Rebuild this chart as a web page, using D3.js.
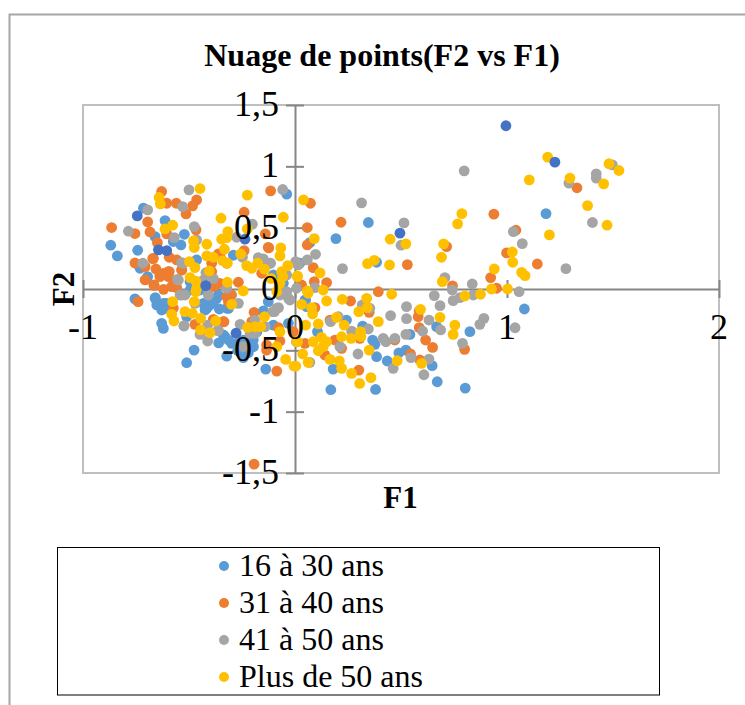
<!DOCTYPE html>
<html>
<head>
<meta charset="utf-8">
<script src="https://cdn.jsdelivr.net/npm/d3@7/dist/d3.min.js"></script>
<style>html,body{margin:0;padding:0;background:#fff}svg{display:block}text{font-family:"Liberation Serif",serif;fill:#000}</style>
</head>
<body>
<div id="chart"></div>
<script>
const xTicks = [-1, 0, 1, 2];
const yTicks = [-1.5, -1, -0.5, 0, 0.5, 1, 1.5];
const legendLabels = ["16 à 30 ans", "31 à 40 ans", "41 à 50 ans", "Plus de 50 ans"];
const chartTitle = "Nuage de points(F2 vs F1)";

const age16to30 = [[-.869,.357],[-.838,.27],[-.742,.316],[-.613,.558],[-.715,.659],[-.522,.446],[-.66,.427],[-.574,.387],[-.538,.359],[-.039,.773],[-.291,.275],[-.731,.169],[-.695,.101],[-.637,.114],[-.102,.114],[-.464,.237],[-.495,.06],[-.055,.046],
[-.755,-.081],[-.659,-.07],[-.652,-.13],[-.621,-.117],[-.629,-.171],[-.613,-.157],[-.629,-.28],[-.621,-.321],[-.476,-.498],[-.511,-.601],[-.424,-.171],[-.401,-.13],[-.369,-.076],[-.432,-.117],[-.357,-.163],[-.322,-.157],[-.126,-.103],[-.149,-.179],[-.385,-.09],[-.338,-.375],[-.314,-.416],[-.275,-.443],[-.212,-.43],[-.322,-.547],[-.244,-.56],[-.196,-.47],[-.138,-.653],[-.511,-.226],[-.031,-.28],[-.102,-.294],
[.346,.542],[.193,.411],[.07,.378],[.385,.218],[.023,.21],[.05,-.09],[.243,-.253],[.319,-.302],[.106,-.348],[.366,-.416],[.377,-.451],[.542,-.37],[.668,-.307],[.825,-.348],[.385,-.552],[.435,-.587],[.49,-.52],[.523,-.498],[.647,-.625],[.671,-.756],[.803,-.808],[.38,-.819],[.169,-.821],[.18,-.653],[.007,-.43],[1.184,.615],[1.082,-.163],
[-.66,-.076],[-.605,-.117],[-.417,-.158],[-.385,-.103],[-.362,-.049],[-.314,-.158],[-.149,-.185],[-.33,-.389],[-.299,-.443],[-.244,-.416],[-.197,-.416],[-.495,-.008],[-.448,-.008],[.047,-.09],[.055,-.144],[-.102,.106],[-.27,-.5],[-.22,-.52],[-.36,-.44],[-.18,-.35]];

const age31to40 = [[-.629,.795],[-.605,.699],[-.56,.699],[-.464,.727],[-.483,.678],[-.514,.612],[-.865,.501],[-.755,.452],[-.695,.547],[-.684,.465],[-.649,.378],[-.605,.449],[-.467,.482],[-.24,.626],[-.14,.449],[-.115,.8],[-.124,.335],[-.24,.313],[-.671,.248],[-.755,.212],[-.593,.259],[-.558,.237],[-.707,.182],[-.656,.163],[-.534,.155],[-.593,.142],[-.637,.101],[-.597,.101],[-.707,.074],[-.665,.03],[-.62,-.003],[-.582,.019],[-.393,.21],[-.361,.286],[-.322,.21],[-.393,.142],[-.369,.046],[-.267,.055],[-.157,.128],
[-.74,-.103],[-.574,-.157],[-.472,-.288],[-.385,-.253],[-.338,-.266],[-.314,-.103],[-.299,-.049],[-.193,-.19],[-.204,-.266],[-.078,-.315],[-.071,-.424],[-.134,-.457],[-.134,-.498],[-.086,-.669],[-.193,-1.428],[-.008,-.348],[-.558,.011],
[.073,.699],[.217,.544],[.058,.501],[.058,.359],[.086,.174],[.091,.06],[.149,.052],[.031,.033],[.715,.346],[.53,.199],[.938,.61],[.998,.294],[.923,.093],[.743,.025],[.951,.006],[.393,-.022],
[.262,-.098],[.35,-.19],[.094,-.152],[.581,-.226],[.586,-.179],[.586,-.315],[.616,-.416],[.649,-.476],[.8,-.492],[.165,-.253],[.306,-.402],[.047,-.443],[.188,-.416],[.22,-.484],[.141,-.538],[.545,-.53],[.589,-.579],[.301,-.661],[.471,-.416],
[1.33,.825],[1.042,.479],[1.143,.204],
[-.668,.25],[-.621,.128],[-.598,.141],[-.665,.033],[-.574,.033],[-.535,.155],[-.354,.046],[-.385,.019],[-.307,-.117],[-.322,-.063],[-.385,-.248],[-.335,-.267],[-.126,.34],[-.354,.278]];

const age41to50 = [[-.5,.808],[-.695,.645],[-.53,.672],[-.786,.471],[-.475,.509],[-.569,.419],[-.464,.4],[-.275,.422],[-.201,.528],[-.058,.811],[-.718,.21],[-.527,.21],[-.555,.079],[-.42,.134],[-.385,.085],[-.248,.259],[-.173,.256],[-.149,.245],[-.115,.21],[.008,.21],[-.039,.114],[-.322,.006],
[-.523,-.299],[-.534,-.049],[-.409,-.049],[-.472,-.117],[-.267,-.117],[-.078,-.152],[-.097,-.185],[-.031,-.076],[-.071,-.049],[-.259,-.288],[-.189,-.253],[-.141,-.307],[-.189,-.362],[-.412,-.424],[-.448,-.37],[-.365,-.34],[-.412,-.294],[-.244,-.47],
[.798,.963],[.314,.702],[.514,.539],[.5,.357],[.097,.283],[.003,.223],[.058,.237],[.015,.196],[.224,.166],[.707,.093],[.836,.041],[.742,-.008],[.007,.006],[.094,.011],
[.657,-.054],[.746,-.095],[.778,-.07],[.841,-.049],[.684,-.136],[.526,-.144],[.353,-.157],[.317,-.13],[.451,-.217],[.526,-.242],[.632,-.253],[.168,-.266],[.204,-.226],[.346,-.326],[.267,-.343],[.687,-.334],[.602,-.343],[.891,-.239],[.872,-.288],[.523,-.37],[.471,-.402],[.416,-.402],[.429,-.43],[.79,-.443],[.212,-.47],[.297,-.53],[.547,-.56],[.632,-.571],[.463,-.647],[.608,-.699],[.07,-.598],
[1.497,1.012],[1.292,.863],[1.421,.939],[1.421,.904],[1.403,.542],[1.03,.468],[1.072,.37],[1.278,.166],[1.057,-.022],[1.038,-.316],
[-.535,.215],[-.55,.073],[-.542,-.049],[-.519,-.049],[-.432,.073],[-.524,-.302],[-.362,-.335],[-.039,-.022],[-.087,-.158],[-.105,-.185],[-.024,-.09],[-.212,-.362],[-.118,.21]];

const agePlus50 = [[-.448,.819],[-.641,.746],[-.635,.694],[-.225,.765],[-.349,.577],[-.055,.585],[-.577,.52],[-.613,.49],[-.225,.49],[-.317,.468],[-.346,.406],[-.322,.419],[-.479,.392],[-.475,.338],[-.416,.365],[-.333,.324],[-.067,.335],[-.071,.27],[-.256,.286],[-.416,.27],[-.385,.259],[-.498,.223],[-.472,.174],[-.341,.231],[-.319,.21],[-.404,.147],[-.228,.191],[-.204,.169],[-.176,.21],[-.144,.161],[-.034,.191],[-.063,.142],[.011,.101],[-.058,.101],[-.113,.087],[-.495,.093],[-.468,.065],[-.319,.055],[-.071,.046],[-.086,-.02],[-.464,.006],
[-.577,-.103],[-.475,-.103],[-.468,-.021],[-.244,-.016],[-.299,-.125],[-.582,-.206],[-.571,-.261],[-.519,-.185],[-.484,-.198],[-.445,-.239],[-.374,-.261],[-.144,-.226],[-.445,-.334],[-.401,-.356],[-.223,-.313],[-.189,-.307],[-.162,-.307],[-.071,-.348],[-.086,-.47],[-.044,-.574],[-.005,-.628],[.008,-.43],
[.04,.727],[.787,.615],[.767,.531],[.091,.411],[.449,.406],[.523,.368],[.701,.368],[.691,.259],[.342,.207],[.374,.234],[.446,.196],[.118,.131],[.012,.106],[.94,.163],[.695,.06],[.133,-.008],[.058,-.016],
[.062,-.035],[.456,-.043],[.031,-.125],[.149,-.098],[.223,-.084],[.338,-.076],[.078,-.152],[.083,-.204],[.341,-.152],[.301,-.185],[.196,-.231],[.393,-.266],[.592,-.166],[.684,-.231],[.801,-.057],[.875,-.043],[.927,0],[.05,-.294],[.11,-.285],[.232,-.294],[.754,-.294],[.746,-.37],[.309,-.348],[.311,-.389],[.22,-.389],[.265,-.402],[.125,-.394],[.012,-.43],[.086,-.43],[.149,-.43],[.133,-.47],[.11,-.503],[.35,-.498],[.036,-.53],[.062,-.598],[.004,-.628],[.165,-.574],[.209,-.587],[.22,-.647],[.267,-.688],[.482,-.585],[.597,-.606],[.358,-.723],[.305,-.77],
[1.192,1.075],[1.105,.89],[1.297,.904],[1.481,1.021],[1.528,.966],[1.456,.857],[1.38,.68],[1.472,.52],[1.2,.441],[1.025,.302],[1.027,.218],[1.069,.136],[1.085,.109],[1.003,0]];

const unlabelled = [[-.744,.596],[-.644,.319],[-.605,.313],[-.236,.406],[-.421,.027],[-.278,-.36],[.995,1.331],[.495,.455],[1.226,1.034]];

const seriesColors = ["#5B9BD5", "#ED7D31", "#A5A5A5", "#FFC000"];
const darkColor = "#4472C4";

const width = 745, height = 705;
const svg = d3.select("#chart").append("svg").attr("width", width).attr("height", height);
const x = d3.scaleLinear().domain([-1, 2]).range([83, 719]);
const y = d3.scaleLinear().domain([-1.5, 1.5]).range([473, 105]);

// outer frame, open to the right and bottom of the crop
svg.append("path").attr("d", `M9.5,${height}V14.5H${width}`).attr("fill", "none").attr("stroke", "#a6a6a6").attr("stroke-width", 2);

// plot frame
svg.append("rect").attr("x", x(-1)).attr("y", y(1.5)).attr("width", x(2) - x(-1)).attr("height", y(-1.5) - y(1.5))
  .attr("fill", "#fff").attr("stroke", "#bfbfbf").attr("stroke-width", 2);

// axes crossing at zero, with ticks across the line
const xAxis = svg.append("g").attr("transform", `translate(0,${y(0)})`).call(d3.axisBottom(x).tickValues(xTicks).tickFormat("").tickSize(0));
const yAxis = svg.append("g").attr("transform", `translate(${x(0)},0)`).call(d3.axisLeft(y).tickValues(yTicks).tickFormat("").tickSize(0));
[xAxis, yAxis].forEach(g => { g.selectAll(".domain").attr("stroke", "#868686").attr("stroke-width", 2); });
xAxis.selectAll(".tick line").attr("y1", -9).attr("y2", 9).attr("stroke", "#868686").attr("stroke-width", 2);
yAxis.selectAll(".tick line").attr("x1", -9).attr("x2", 9).attr("stroke", "#868686").attr("stroke-width", 2);

// points
const drawSeries = (data, color) => svg.append("g").selectAll("circle").data(data).join("circle")
  .attr("cx", d => x(d[0])).attr("cy", d => y(d[1])).attr("r", 5.4).attr("fill", color);
[age16to30, age31to40, age41to50, agePlus50].forEach((s, i) => drawSeries(s, seriesColors[i]));
drawSeries(unlabelled, darkColor);

// tick labels sit above the points
const fmt = v => String(v).replace(".", ",");
svg.append("g").selectAll("text").data(xTicks).join("text")
  .attr("x", d => x(d)).attr("y", y(0) + 50).attr("text-anchor", "middle").attr("font-size", 36).text(fmt);
svg.append("g").selectAll("text").data(yTicks).join("text")
  .attr("x", x(0) - 16).attr("y", d => y(d) + 11).attr("text-anchor", "end").attr("font-size", 36).text(fmt);

// titles
svg.append("text").attr("x", 382).attr("y", 66).attr("text-anchor", "middle").attr("font-size", 32).attr("font-weight", "bold").text(chartTitle);
svg.append("text").attr("x", 400.5).attr("y", 508).attr("text-anchor", "middle").attr("font-size", 31).attr("font-weight", "bold").text("F1");
svg.append("text").attr("transform", "translate(74,289) rotate(-90)").attr("text-anchor", "middle").attr("font-size", 31).attr("font-weight", "bold").text("F2");

// legend
svg.append("rect").attr("x", 57.5).attr("y", 547.5).attr("width", 602).attr("height", 147.5).attr("fill", "#fff").attr("stroke", "#000").attr("stroke-width", 1);
const legend = svg.append("g").selectAll("g").data(legendLabels).join("g").attr("transform", (d, i) => `translate(224,${566 + i * 37})`);
legend.append("circle").attr("r", 5).attr("fill", (d, i) => seriesColors[i]);
legend.append("text").attr("x", 15).attr("y", 10).attr("font-size", 32).text(d => d);
</script>
</body>
</html>
